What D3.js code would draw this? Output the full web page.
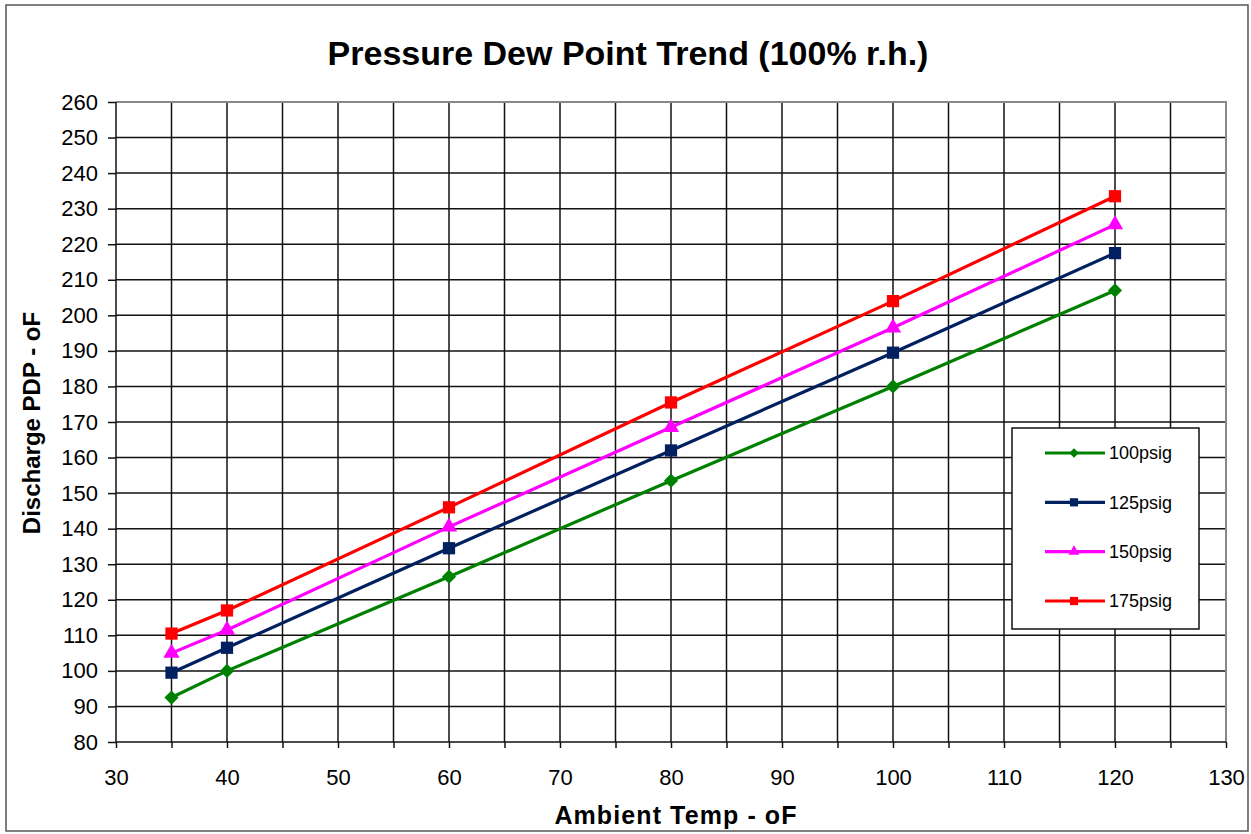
<!DOCTYPE html>
<html>
<head>
<meta charset="utf-8">
<script src="https://cdn.jsdelivr.net/npm/d3@7"></script>
<style>
  body { margin: 0; background: #fff; }
  svg { display: block; font-family: "Liberation Sans", Arial, sans-serif; }
</style>
</head>
<body>
<svg id="chart" width="1251" height="834"></svg>
<script>
// data
const temps = [35, 40, 60, 80, 100, 120];
const psig100 = [92.5, 100, 126.5, 153.5, 180, 207];
const psig125 = [99.5, 106.5, 134.5, 162, 189.5, 217.5];
const psig150 = [105, 111.5, 140.5, 168.5, 196.5, 225.5];
const psig175 = [110.5, 117, 146, 175.5, 204, 233.5];
const seriesNames = ["100psig", "125psig", "150psig", "175psig"];
const yTicks = d3.range(80, 261, 10);

const series = [
  { name: seriesNames[0], values: psig100, color: "#008000", symbol: d3.symbolSquare, size: 100, rot: 45 },
  { name: seriesNames[1], values: psig125, color: "#002060", symbol: d3.symbolSquare, size: 150, rot: 0 },
  { name: seriesNames[2], values: psig150, color: "#ff00ff", symbol: d3.symbolTriangle, size: 115, rot: 0 },
  { name: seriesNames[3], values: psig175, color: "#ff0000", symbol: d3.symbolSquare, size: 150, rot: 0 }
];

const svg = d3.select("#chart");
const m = { left: 116, right: 1226, top: 102, bottom: 742 };

const x = d3.scaleLinear().domain([30, 130]).range([m.left, m.right]);
const y = d3.scaleLinear().domain([80, 260]).range([m.bottom, m.top]);

// outer frame
svg.append("rect").attr("x", 6).attr("y", 5).attr("width", 1242).attr("height", 826)
  .attr("fill", "#fff").attr("stroke", "#555").attr("stroke-width", 1.5);

// title
svg.append("text").attr("x", 628).attr("y", 65).attr("text-anchor", "middle")
  .attr("font-size", 34).attr("font-weight", "bold").text("Pressure Dew Point Trend (100% r.h.)");

// grid
const grid = svg.append("g");
grid.selectAll(".vg").data(d3.range(35, 130, 5)).join("line")
  .attr("x1", d => x(d)).attr("x2", d => x(d)).attr("y1", m.top).attr("y2", m.bottom)
  .attr("stroke", "#111").attr("stroke-width", 1.5);
grid.selectAll(".hg").data(yTicks.filter(d => d > 80 && d < 260)).join("line")
  .attr("x1", m.left).attr("x2", m.right).attr("y1", d => y(d)).attr("y2", d => y(d))
  .attr("stroke", "#111").attr("stroke-width", 1.5);

// plot border (top/right grey)
svg.append("path")
  .attr("d", `M${m.left},${m.top}H${m.right}V${m.bottom}`)
  .attr("fill", "none").attr("stroke", "#888").attr("stroke-width", 2);

// axes
const xAxis = d3.axisBottom(x).tickValues(d3.range(30, 131, 5)).tickSize(6)
  .tickFormat(d => d % 10 === 0 ? d : "");
const gx = svg.append("g").attr("transform", `translate(0,${m.bottom})`).call(xAxis);
gx.select(".domain").attr("stroke", "#111").attr("stroke-width", 1.5).attr("d", `M${m.left},0H${m.right}`);
gx.selectAll(".tick line").attr("stroke", "#111").attr("stroke-width", 1.5);
gx.selectAll(".tick text").attr("font-size", 22).attr("fill", "#000").attr("y", 43).attr("dy", 0)
  .attr("font-family", "Liberation Sans, Arial, sans-serif");

const yAxis = d3.axisLeft(y).tickValues(yTicks).tickSize(8);
const gy = svg.append("g").attr("transform", `translate(${m.left},0)`).call(yAxis);
gy.select(".domain").attr("stroke", "#111").attr("stroke-width", 1.5).attr("d", `M0,${m.bottom}V${m.top}`);
gy.selectAll(".tick line").attr("stroke", "#111").attr("stroke-width", 1.5);
gy.selectAll(".tick text").attr("font-size", 22).attr("fill", "#000").attr("x", -18)
  .attr("font-family", "Liberation Sans, Arial, sans-serif");

// axis titles
svg.append("text").attr("x", 676).attr("y", 824).attr("text-anchor", "middle")
  .attr("font-size", 25).attr("font-weight", "bold").attr("letter-spacing", 1.1).text("Ambient Temp - oF");
svg.append("text").attr("transform", "translate(40,423) rotate(-90)").attr("text-anchor", "middle")
  .attr("font-size", 24).attr("font-weight", "bold").text("Discharge PDP - oF");

// series
const line = d3.line().x((d, i) => x(temps[i])).y(d => y(d));
series.forEach(s => {
  svg.append("path").datum(s.values).attr("d", line)
    .attr("fill", "none").attr("stroke", s.color).attr("stroke-width", 3.2);
  svg.selectAll(null).data(s.values).join("path")
    .attr("transform", (d, i) => `translate(${x(temps[i])},${y(d)}) rotate(${s.rot})`)
    .attr("d", d3.symbol().type(s.symbol).size(s.size)())
    .attr("fill", s.color);
});

// legend
const lg = svg.append("g");
lg.append("rect").attr("x", 1012).attr("y", 428).attr("width", 187).attr("height", 201)
  .attr("fill", "#fff").attr("stroke", "#111").attr("stroke-width", 1.5);
const ly = d3.scalePoint().domain(seriesNames).range([453, 601]);
series.forEach(s => {
  const yy = ly(s.name);
  lg.append("line").attr("x1", 1045).attr("x2", 1105).attr("y1", yy).attr("y2", yy)
    .attr("stroke", s.color).attr("stroke-width", 3.2);
  lg.append("path").attr("transform", `translate(1074,${yy}) rotate(${s.rot})`)
    .attr("d", d3.symbol().type(s.symbol).size(s.size * 0.45)()).attr("fill", s.color);
  lg.append("text").attr("x", 1109).attr("y", yy).attr("dy", "0.35em")
    .attr("font-size", 18).text(s.name);
});
</script>
</body>
</html>
